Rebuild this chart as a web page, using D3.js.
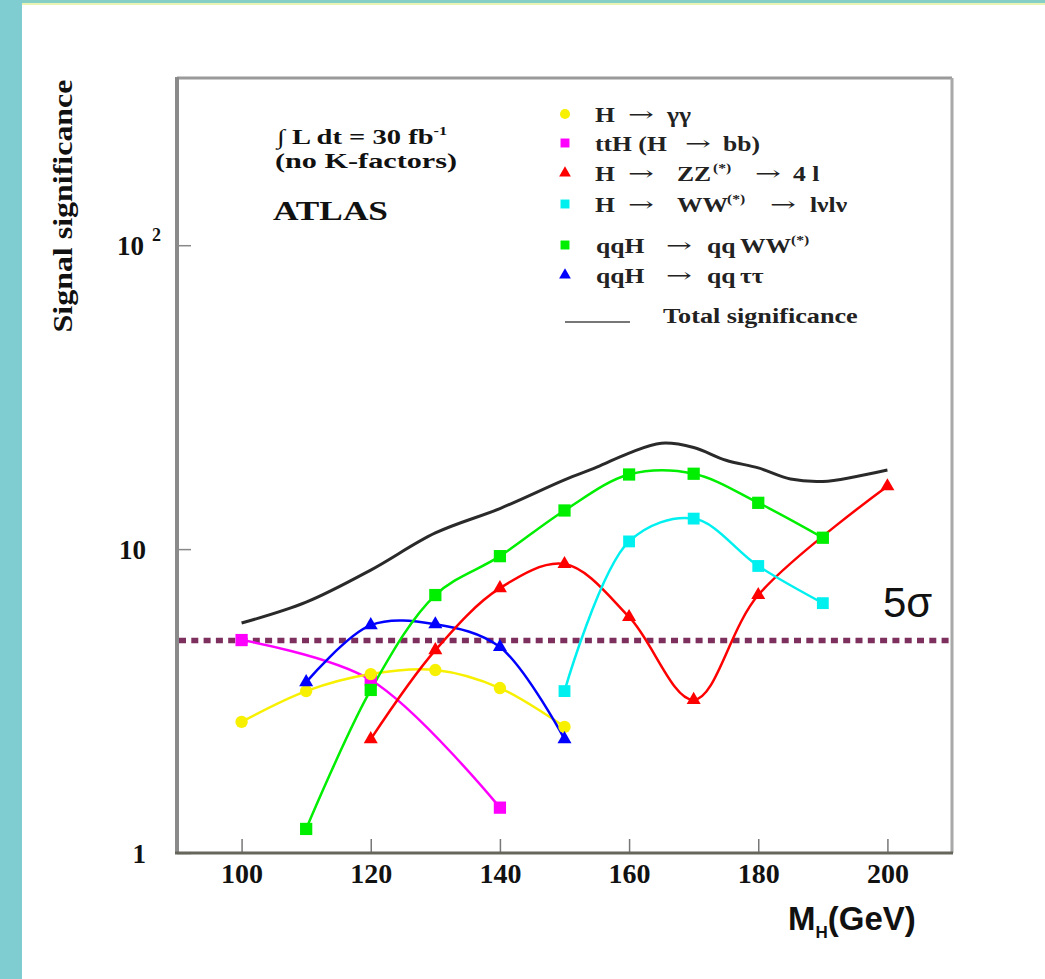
<!DOCTYPE html>
<html>
<head>
<meta charset="utf-8">
<script src="https://cdn.jsdelivr.net/npm/d3@7"></script>
<style>
  html, body { margin: 0; padding: 0; background: #fff; }
  text { white-space: pre; }
</style>
</head>
<body>
<svg width="1045" height="979"></svg>
<script>
// signal significance vs Higgs mass, 30 fb-1, log scale

var xTicks = [100, 120, 140, 160, 180, 200];
var xMinor = [95, 105, 110, 115, 125, 130, 135, 145, 150, 155, 165, 170, 175, 185, 190, 195, 205];
var yTicks = [1, 10, 100];
var yMinor = [2, 3, 4, 5, 6, 7, 8, 9, 20, 30, 40, 50, 60, 70, 80, 90, 200, 300];

var ggMass = [100, 110, 120, 130, 140, 150];
var ggSig = [2.70, 3.41, 3.88, 4.0, 3.49, 2.60];

var ttHMass = [100, 120, 140];
var ttHSig = [5.02, 3.71, 1.41];

var zzMass = [120, 130, 140, 150, 160, 170, 180, 200];
var zzSig = [2.37, 4.65, 7.44, 8.93, 5.98, 3.19, 7.06, 16.1];

var wwMass = [150, 160, 170, 180, 190];
var wwSig = [3.41, 10.6, 12.6, 8.8, 6.64];

var qqWWMass = [110, 120, 130, 140, 150, 160, 170, 180, 190];
var qqWWSig = [1.2, 3.44, 7.06, 9.48, 13.4, 17.6, 17.7, 14.2, 10.9];

var qqTauMass = [110, 120, 130, 140, 150];
var qqTauSig = [3.65, 5.62, 5.66, 4.76, 2.37];

var totalMass = [100, 110, 120, 130, 140, 150, 155, 160, 165, 170, 175, 180, 185, 190, 195, 200];
var totalSig = [5.71, 6.69, 8.53, 11.3, 13.6, 16.9, 18.6, 20.7, 22.3, 21.6, 19.6, 18.5, 17.0, 16.7, 17.3, 18.2];

var fiveSigma = 5;

var serif = "'Liberation Serif', 'Times New Roman', serif";
var sans = "'Liberation Sans', Arial, sans-serif";

var svg = d3.select("svg"),
    width = +svg.attr("width"),
    height = +svg.attr("height");

var x = d3.scaleLinear().domain([90, 210]).range([177, 952]);
var y = d3.scaleLog().domain([1, 355]).range([853, 78]);

// horizontally stretched text, like the scanned figure
function stext(px, py, str, size, sx) {
  return svg.append("g").attr("transform", "translate(" + px + "," + py + ") scale(" + sx + ",1)")
    .append("text")
      .attr("font-family", serif).attr("font-weight", "bold").attr("font-size", size).attr("fill", "#222")
      .text(str);
}

// page decoration
svg.append("rect").attr("x", 0).attr("y", 0).attr("width", width).attr("height", 3).attr("fill", "#86cfc6");
svg.append("rect").attr("x", 0).attr("y", 3).attr("width", width).attr("height", 2).attr("fill", "#e8f4b4");
svg.append("rect").attr("x", 0).attr("y", 0).attr("width", 22).attr("height", height).attr("fill", "#7fcdd1");

// frame
svg.append("line").attr("x1", 177).attr("x2", 952).attr("y1", 78).attr("y2", 78)
    .attr("stroke", "#9a9a9a").attr("stroke-width", 3);
svg.append("line").attr("x1", 952).attr("x2", 952).attr("y1", 78).attr("y2", 853)
    .attr("stroke", "#a8a8a8").attr("stroke-width", 3);

// axes
var gx = svg.append("g").attr("transform", "translate(0,853)");
gx.call(d3.axisBottom(x).tickValues(xMinor).tickSize(-8).tickFormat(""));
gx.call(d3.axisBottom(x).tickValues(xTicks).tickSize(-14).tickPadding(8));
gx.select(".domain").remove();
gx.selectAll(".tick line").attr("stroke", "#777").attr("stroke-width", 1.5);
gx.selectAll(".tick text")
    .attr("font-family", serif).attr("font-weight", "bold").attr("font-size", 28)
    .attr("fill", "#111").attr("dy", "0.8em");

var gy = svg.append("g").attr("transform", "translate(177,0)");
gy.call(d3.axisLeft(y).tickValues(yMinor).tickSize(-8).tickFormat(""));
gy.call(d3.axisLeft(y).tickValues(yTicks).tickSize(-14).tickPadding(31).tickFormat(function(d) { return d === 100 ? "" : d; }));
gy.select(".domain").remove();
gy.selectAll(".tick line").attr("stroke", "#888").attr("stroke-width", 1.5);
gy.selectAll(".tick text")
    .attr("font-family", serif).attr("font-weight", "bold").attr("font-size", 27)
    .attr("fill", "#111").attr("dy", "0.36em");

svg.append("text").attr("x", 144).attr("y", y(100) + 10)
    .attr("text-anchor", "end")
    .attr("font-family", serif).attr("font-weight", "bold").attr("font-size", 27).attr("fill", "#111")
    .text("10");
svg.append("text").attr("x", 152).attr("y", y(100) - 4)
    .attr("font-family", serif).attr("font-weight", "bold").attr("font-size", 18).attr("fill", "#111")
    .text("2");

svg.append("line").attr("x1", 177).attr("x2", 177).attr("y1", 77).attr("y2", 854)
    .attr("stroke", "#8a8a8a").attr("stroke-width", 4);
svg.append("line").attr("x1", 175).attr("x2", 953).attr("y1", 853).attr("y2", 853)
    .attr("stroke", "#66665c").attr("stroke-width", 3);

// axis titles
svg.append("text")
    .attr("transform", "translate(72,206) rotate(-90)")
    .attr("text-anchor", "middle")
    .attr("font-family", serif).attr("font-weight", "bold").attr("font-size", 27)
    .attr("textLength", 253).attr("lengthAdjust", "spacingAndGlyphs")
    .attr("fill", "#111")
    .text("Signal significance");

var mh = svg.append("text").attr("x", 788).attr("y", 930)
    .attr("font-family", sans).attr("font-weight", "bold").attr("font-size", 33).attr("fill", "#111");
mh.append("tspan").text("M");
mh.append("tspan").attr("font-size", 17).attr("dy", 8).text("H");
mh.append("tspan").attr("dy", -8).text("(GeV)");

// 5 sigma line
svg.append("line")
    .attr("x1", x(90) + 2).attr("x2", x(210) - 3)
    .attr("y1", y(fiveSigma)).attr("y2", y(fiveSigma))
    .attr("stroke", "#7d2f5e").attr("stroke-width", 5.5)
    .attr("stroke-dasharray", "7,5.3");

svg.append("text").attr("x", 883).attr("y", 617)
    .attr("font-family", sans).attr("font-size", 42).attr("fill", "#111")
    .text("5σ");

// series
var series = [
  { mass: totalMass, sig: totalSig, color: "#2a2a2a", symbol: null, width: 3 },
  { mass: ttHMass, sig: ttHSig, color: "#ff00ff", symbol: d3.symbolSquare, size: 150 },
  { mass: ggMass, sig: ggSig, color: "#f7f000", symbol: d3.symbolCircle, size: 120 },
  { mass: qqTauMass, sig: qqTauSig, color: "#0000ff", symbol: d3.symbolTriangle, size: 85 },
  { mass: zzMass, sig: zzSig, color: "#ff0000", symbol: d3.symbolTriangle, size: 85 },
  { mass: wwMass, sig: wwSig, color: "#00f0f0", symbol: d3.symbolSquare, size: 140 },
  { mass: qqWWMass, sig: qqWWSig, color: "#00ee00", symbol: d3.symbolSquare, size: 150 }
];

var line = d3.line()
    .x(function(d) { return x(d[0]); })
    .y(function(d) { return y(d[1]); })
    .curve(d3.curveCatmullRom.alpha(0.5));

series.forEach(function(s) {
  var pts = s.mass.map(function(m, i) { return [m, s.sig[i]]; });
  svg.append("path")
      .datum(pts)
      .attr("d", line)
      .attr("fill", "none")
      .attr("stroke", s.color)
      .attr("stroke-width", s.width || 2.5);
});

series.forEach(function(s) {
  if (!s.symbol) return;
  var pts = s.mass.map(function(m, i) { return [m, s.sig[i]]; });
  svg.append("g").selectAll("path")
    .data(pts)
    .enter().append("path")
      .attr("transform", function(d) { return "translate(" + x(d[0]) + "," + y(d[1]) + ")"; })
      .attr("d", d3.symbol().type(s.symbol).size(s.size))
      .attr("fill", s.color);
});

// legend: each row is a list of [text, left x, kind]
var legendRows = [
  { color: "#f7f000", symbol: d3.symbolCircle, size: 80, y: 114,
    parts: [["H", 595], ["→", 628, "arr"], ["γγ", 667]] },
  { color: "#ff00ff", symbol: d3.symbolSquare, size: 80, y: 143,
    parts: [["ttH (H", 595], ["→", 685, "arr"], ["bb)", 723]] },
  { color: "#ff0000", symbol: d3.symbolTriangle, size: 60, y: 173,
    parts: [["H", 595], ["→", 628, "arr"], ["ZZ", 677], ["(*)", 713, "sup"], ["→", 755, "arr"], ["4 l", 793]] },
  { color: "#00f0f0", symbol: d3.symbolSquare, size: 80, y: 204,
    parts: [["H", 595], ["→", 628, "arr"], ["WW", 677], ["(*)", 727, "sup"], ["→", 770, "arr"], ["lνlν", 810]] },
  { color: "#00ee00", symbol: d3.symbolSquare, size: 80, y: 245,
    parts: [["qqH", 596], ["→", 666, "arr"], ["qq", 707], ["WW", 740], ["(*)", 791, "sup"]] },
  { color: "#0000ff", symbol: d3.symbolTriangle, size: 60, y: 275,
    parts: [["qqH", 596], ["→", 666, "arr"], ["qq", 707], ["ττ", 740]] }
];

legendRows.forEach(function(r) {
  svg.append("path")
      .attr("transform", "translate(565," + r.y + ")")
      .attr("d", d3.symbol().type(r.symbol).size(r.size))
      .attr("fill", r.color);
  var base = r.y + 8;
  r.parts.forEach(function(p) {
    if (p[2] === "sup") {
      stext(p[1], base - 9, p[0], 12, 1.3);
    } else if (p[2] === "arr") {
      stext(p[1], base - 1, p[0], 20, 1.55)
        .attr("font-family", "'DejaVu Serif', serif").attr("font-weight", "normal");
    } else {
      stext(p[1], base, p[0], 20, 1.28);
    }
  });
});

svg.append("line").attr("x1", 565).attr("x2", 630).attr("y1", 322).attr("y2", 322)
    .attr("stroke", "#777").attr("stroke-width", 2);
stext(663, 323, "Total significance", 20, 1.31);

// luminosity label
var lum = stext(277, 144, "", 21, 1.36).attr("fill", "#111");
lum.append("tspan").attr("font-weight", "normal").text("∫");
lum.append("tspan").text(" L dt = 30 fb");
lum.append("tspan").attr("font-size", 12).attr("dy", -9).text("-1");

stext(275, 168, "(no K-factors)", 21, 1.44).attr("fill", "#111");
stext(273, 220, "ATLAS", 28, 1.26).attr("fill", "#111");
</script>
</body>
</html>
